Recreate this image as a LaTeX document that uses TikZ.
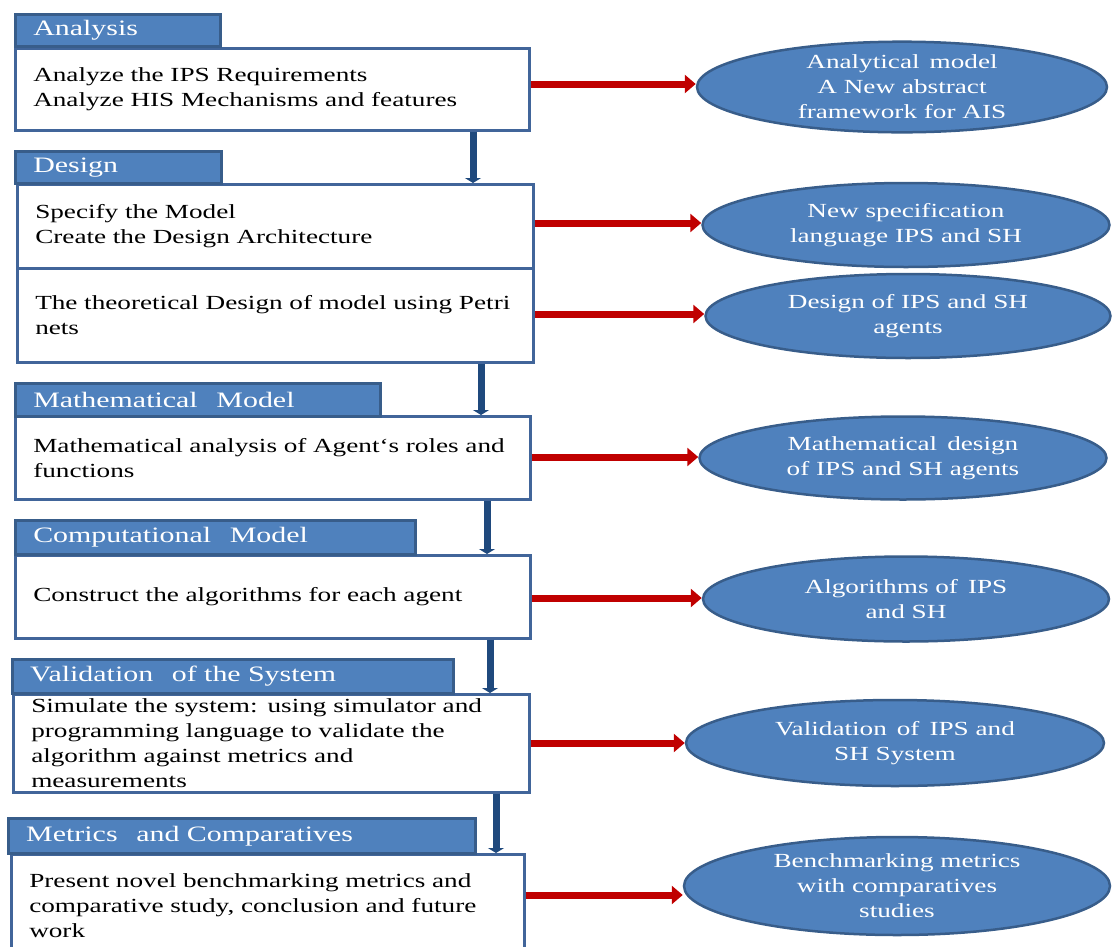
\documentclass[tikz,border=0pt]{standalone}
\usepackage{fontspec}
\setmainfont{Liberation Serif}[FakeStretch=1.36]
\usetikzlibrary{arrows.meta,shapes.geometric}

\definecolor{hdrfill}{HTML}{4F81BD}
\definecolor{hdrline}{HTML}{385D8A}
\definecolor{boxline}{HTML}{41659A}
\definecolor{flowblue}{HTML}{1F497D}
\definecolor{outred}{HTML}{C00000}

% wide gap used between words of the stage titles
\newcommand{\wgap}{\hspace{0.85em}}

\tikzset{
  stagehead/.style={draw=hdrline, line width=2.5pt, fill=hdrfill, text=white,
    anchor=north west, inner xsep=18pt, inner ysep=0pt, align=left,
    font=\fontsize{22}{26}\selectfont},
  panel/.style={draw=boxline, line width=2.5pt, fill=white, text=black,
    anchor=north west, inner xsep=18pt, inner ysep=0pt, align=left,
    font=\fontsize{20}{25}\selectfont},
  result/.style={ellipse, draw=hdrline, line width=2.5pt, fill=hdrfill,
    text=white, align=center, inner sep=0pt,
    font=\fontsize{20}{25}\selectfont},
  flowarr/.style={draw=flowblue, line width=7pt,
    -{Triangle[width=16pt,length=5pt]}},
  outarr/.style={draw=outred, line width=7pt,
    -{Triangle[width=18pt,length=11pt]}},
}

\begin{document}
\begin{tikzpicture}[x=1pt,y=-1pt]
\useasboundingbox (0,0) rectangle (1112,946);

% stage panels
\node[panel, text width=478pt, minimum height=82pt] (b1) at (14,47)
  {Analyze the IPS Requirements\\Analyze HIS Mechanisms and features};
\node[panel, text width=480pt, minimum height=84pt] (b2) at (16,183)
  {Specify the Model\\Create the Design Architecture};
\node[panel, text width=480pt, minimum height=94pt] (b3) at (16,267)
  {\mbox{The theoretical Design of model using Petri}\\nets};
\node[panel, text width=479pt, minimum height=83pt] (b4) at (14,415)
  {\mbox{Mathematical analysis of Agent‘s roles and}\\functions};
\node[panel, text width=479pt, minimum height=83pt] (b5) at (14,554)
  {Construct the algorithms for each agent};
\node[panel, text width=480pt, minimum height=98pt] (b6) at (12,693)
  {\mbox{Simulate the system: using simulator and}\\
   \mbox{programming language to validate the}\\
   algorithm against metrics and\\measurements};
\node[panel, text width=477pt, minimum height=102pt] (b7) at (10,853)
  {\mbox{Present novel benchmarking metrics and}\\
   \mbox{comparative study, conclusion and future}\\work};

% stage titles
\node[stagehead, text width=169pt, minimum height=32pt] (h1) at (14,13) {Analysis};
\node[stagehead, text width=170pt, minimum height=32pt] (h2) at (14,150) {Design};
\node[stagehead, text width=329pt, minimum height=33pt] (h3) at (14,382)
  {Mathematical\wgap Model};
\node[stagehead, text width=364pt, minimum height=34pt] (h4) at (14,519)
  {Computational\wgap Model};
\node[stagehead, text width=405pt, minimum height=34pt] (h5) at (11,658)
  {Validation\wgap of the System};
\node[stagehead, text width=431pt, minimum height=35pt] (h6) at (7,817)
  {Metrics\wgap and Comparatives};

% outcomes
\node[result, minimum width=410pt, minimum height=84pt] (e1) at (902,87)
  {Analytical\enspace model\\A New abstract\\framework for AIS};
\node[result, minimum width=407pt, minimum height=84pt] (e2) at (906,225)
  {New specification\\language IPS and SH};
\node[result, minimum width=405pt, minimum height=84pt] (e3) at (908,316)
  {Design of IPS and SH\\agents};
\node[result, minimum width=407pt, minimum height=83pt] (e4) at (903,458)
  {Mathematical\enspace design\\of IPS and SH agents};
\node[result, minimum width=406pt, minimum height=85pt] (e5) at (906,599)
  {Algorithms of\enspace IPS\\and SH};
\node[result, minimum width=418pt, minimum height=86pt] (e6) at (895,743)
  {Validation\enspace of\enspace IPS and\\SH System};
\node[result, minimum width=426pt, minimum height=98pt] (e7) at (897,886)
  {Benchmarking metrics\\with comparatives\\studies};

% flow between stages
\draw[flowarr] (473,0 |- b1.south) -- (473,0 |- b2.north);
\draw[flowarr] (481,0 |- b3.south) -- (481,0 |- b4.north);
\draw[flowarr] (487,0 |- b4.south) -- (487,0 |- b5.north);
\draw[flowarr] (490,0 |- b5.south) -- (490,0 |- b6.north);
\draw[flowarr] (496,0 |- b6.south) -- (496,0 |- b7.north);

% stage outputs
\draw[outarr] (b1.east |- 0,84) -- (e1.west |- 0,84);
\draw[outarr] (b2.east |- 0,223) -- (e2.west |- 0,223);
\draw[outarr] (b3.east |- 0,314) -- (e3.west |- 0,314);
\draw[outarr] (b4.east |- 0,457) -- (e4.west |- 0,457);
\draw[outarr] (b5.east |- 0,598) -- (e5.west |- 0,598);
\draw[outarr] (b6.east |- 0,743) -- (e6.west |- 0,743);
\draw[outarr] (b7.east |- 0,895) -- (e7.west |- 0,895);
\end{tikzpicture}
\end{document}
